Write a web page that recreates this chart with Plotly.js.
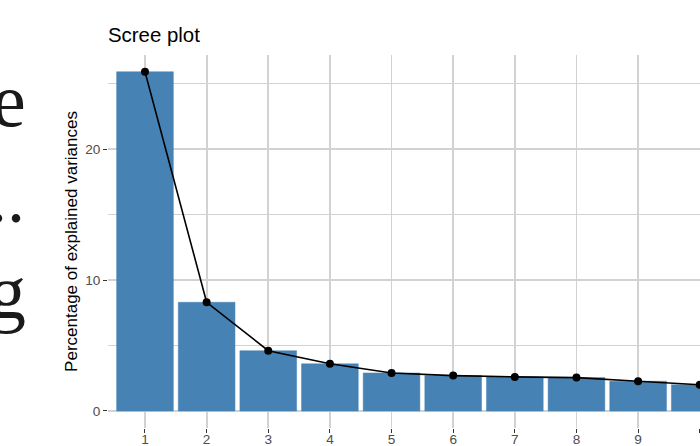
<!DOCTYPE html>
<html>
<head>
<meta charset="utf-8">
<script src="https://cdn.plot.ly/plotly-3.0.1.min.js"></script>
<style>
html,body{margin:0;padding:0;background:#fff;overflow:hidden;}
#chart{width:700px;height:446px;}
</style>
</head>
<body>
<div id="chart"></div>
<script>
// Data
const dimensions = [1, 2, 3, 4, 5, 6, 7, 8, 9, 10];
const explainedVariance = [25.9, 8.3, 4.6, 3.6, 2.9, 2.7, 2.6, 2.55, 2.27, 2.0];
const tickLabels = ['1', '2', '3', '4', '5', '6', '7', '8', '9', '10'];
const yTicks = [0, 10, 20];

const steel = '#4682B4';
const gridCol = '#d2d2d2';

const traces = [
  {
    type: 'bar',
    x: dimensions,
    y: explainedVariance,
    width: 0.92,
    marker: {color: steel, line: {color: steel, width: 0.5}},
    hoverinfo: 'x+y',
    showlegend: false
  },
  {
    type: 'scatter',
    mode: 'lines+markers',
    x: dimensions,
    y: explainedVariance,
    line: {color: '#000000', width: 1.6},
    marker: {color: '#000000', size: 8},
    showlegend: false
  }
];

const serif = 'Liberation Serif, DejaVu Serif, serif';
const L = 108, W = 592;
function px2paper(px){ return (px - L) / W; }

const layout = {
  width: 700,
  height: 446,
  margin: {l: L, r: 0, t: 55, b: 18, pad: 0},
  paper_bgcolor: '#ffffff',
  plot_bgcolor: '#ffffff',
  font: {family: 'Liberation Sans, Arial, sans-serif', color: '#000000'},
  title: {
    text: 'Scree plot',
    font: {size: 20.4, color: '#000000'},
    x: L / 700,
    xref: 'container',
    xanchor: 'left',
    y: 1 - 35 / 446,
    yanchor: 'middle'
  },
  bargap: 0,
  xaxis: {
    range: [0.4, 10.004],
    tickmode: 'array',
    tickvals: dimensions,
    ticktext: tickLabels,
    showgrid: true,
    gridcolor: gridCol,
    gridwidth: 1.8,
    zeroline: false,
    showline: false,
    ticks: 'outside',
    ticklen: 4,
    tickwidth: 1,
    tickcolor: '#333333',
    tickfont: {size: 13.6, color: '#4d4d4d'},
    ticklabelstandoff: -5,
    fixedrange: true
  },
  yaxis: {
    range: [-1.3, 27.18],
    tickmode: 'array',
    tickvals: yTicks,
    ticktext: yTicks.map(String),
    showgrid: true,
    gridcolor: gridCol,
    gridwidth: 1.8,
    minor: {tickmode: 'array', tickvals: [5, 15, 25], showgrid: true, gridcolor: gridCol, gridwidth: 1.8, ticks: ''},
    zeroline: false,
    showline: false,
    ticks: 'outside',
    ticklen: 4,
    tickwidth: 1,
    tickcolor: '#333333',
    tickfont: {size: 13.6, color: '#4d4d4d'},
    title: {text: 'Percentage of explained variances', font: {size: 17, color: '#000000'}, standoff: 3},
    automargin: false,
    fixedrange: true
  },
  annotations: [
    {text: 'e', xref: 'paper', yref: 'paper', x: px2paper(28), y: (428 - 100) / 373, xanchor: 'right', yanchor: 'middle', showarrow: false, font: {family: serif, size: 76, color: '#1a1a1a'}},
    {text: '..', xref: 'paper', yref: 'paper', x: px2paper(27), y: (428 - 198) / 373, xanchor: 'right', yanchor: 'middle', showarrow: false, font: {family: serif, size: 72, color: '#1a1a1a'}},
    {text: 'g', xref: 'paper', yref: 'paper', x: px2paper(28), y: (428 - 292) / 373, xanchor: 'right', yanchor: 'middle', showarrow: false, font: {family: serif, size: 76, color: '#1a1a1a'}}
  ]
};

Plotly.newPlot('chart', traces, layout, {displayModeBar: false, staticPlot: true});
</script>
</body>
</html>
